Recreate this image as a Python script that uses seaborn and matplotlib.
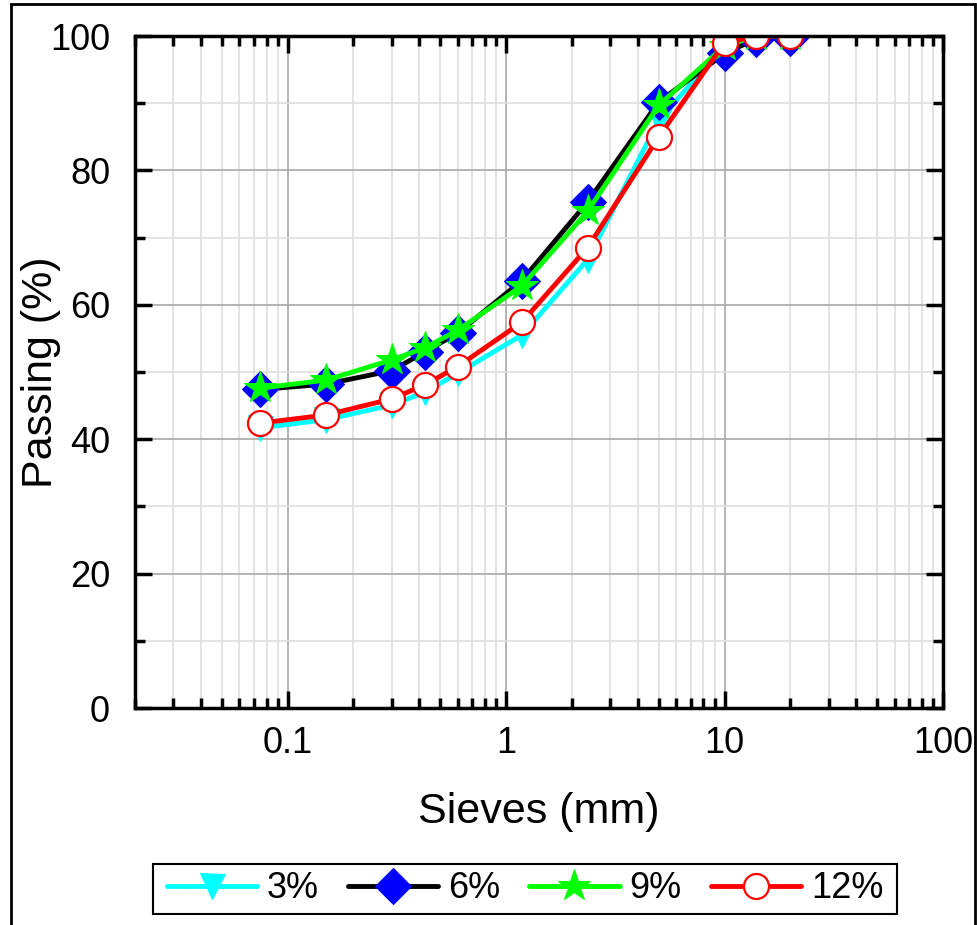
import numpy as np
import pandas as pd
import matplotlib
matplotlib.use("Agg")
import matplotlib.pyplot as plt
import seaborn as sns
from matplotlib.ticker import FixedLocator, FuncFormatter, MultipleLocator
from matplotlib.patches import Rectangle

sieves = [0.075, 0.15, 0.3, 0.425, 0.6, 1.18, 2.36, 5, 10, 14, 20]
p3 = [41.7, 42.9, 45.1, 47.0, 49.8, 55.5, 66.7, 87.5, 98.5, 99.8, 99.8]
p6 = [47.4, 48.2, 50.2, 53.0, 55.8, 63.6, 75.3, 90.2, 97.4, 99.6, 99.7]
p9 = [47.6, 48.8, 51.8, 53.6, 56.2, 62.8, 73.9, 89.7, 98.5, 100.0, 100.0]
p12 = [42.4, 43.6, 46.0, 48.1, 50.8, 57.4, 68.5, 85.0, 99.0, 100.0, 100.0]
labels = ["3%", "6%", "9%", "12%"]

sns.set_style("ticks")
plt.rcParams["font.family"] = ["Liberation Sans", "DejaVu Sans"]
for k in ["text.color", "axes.labelcolor", "xtick.color", "ytick.color", "axes.edgecolor"]:
    plt.rcParams[k] = "black"

W, H = 977, 925
fig = plt.figure(figsize=(W/100, H/100), dpi=100)
ax = fig.add_axes([135/W, 1-708/H, (943-135)/W, (708-36)/H])

styles = [
    dict(color="#00FFFF", marker="v", markersize=18, markerfacecolor="#00FFFF", markeredgecolor="#00FFFF"),
    dict(color="black", marker="D", markersize=18, markerfacecolor="#0000FF", markeredgecolor="#0000FF"),
    dict(color="#00FF00", marker="*", markersize=24, markerfacecolor="#00FF00", markeredgecolor="#00FF00"),
    dict(color="#FF0000", marker="o", markersize=18, markerfacecolor="white", markeredgecolor="#FF0000", markeredgewidth=1.6),
]
for vals, lab, st in zip([p3, p6, p9, p12], labels, styles):
    df = pd.DataFrame({"x": sieves, "y": vals})
    sns.lineplot(data=df, x="x", y="y", ax=ax, lw=3.5, label=lab, legend=False, **st)

ax.set_xscale("log")
ax.set_xlim(0.02, 100)
ax.set_ylim(0, 100)

ax.xaxis.set_major_locator(FixedLocator([0.1, 1, 10, 100]))
ax.xaxis.set_major_formatter(FuncFormatter(lambda v, p: f"{v:g}"))
minors = [m * 10.0**e for e in range(-2, 2) for m in range(2, 10)]
ax.xaxis.set_minor_locator(FixedLocator(minors))
ax.xaxis.set_minor_formatter(FuncFormatter(lambda v, p: ""))
ax.yaxis.set_major_locator(MultipleLocator(20))
ax.yaxis.set_minor_locator(MultipleLocator(10))

ax.grid(which="major", color="#a8a8a8", lw=1.2)
ax.grid(which="minor", color="#dedede", lw=1.2)
ax.set_axisbelow(True)

ax.tick_params(which="both", direction="in", top=True, right=True, width=2.5)
ax.tick_params(which="major", length=12, labelsize=26)
ax.tick_params(axis="x", which="major", pad=13)
ax.tick_params(axis="y", which="major", pad=18)
ax.tick_params(which="minor", length=7)
for s in ax.spines.values():
    s.set_linewidth(2.5)

ax.set_xlabel("Sieves (mm)", fontsize=31)
ax.set_ylabel("Passing (%)", fontsize=31)
ax.xaxis.set_label_coords(0.5, (708-812)/672)
ax.xaxis.label.set_va("center")
ax.yaxis.set_label_coords((41-135)/808, 0.5)
ax.yaxis.label.set_va("center")

handles, labs = ax.get_legend_handles_labels()
leg = fig.legend(handles, labs, loc="center", bbox_to_anchor=(525/W, 1-889/H),
                 ncol=4, fontsize=26, frameon=False,
                 handlelength=2.5, handletextpad=0.28, columnspacing=0.8)

fig.patches.append(Rectangle((153/W, 1-914/H), (897-153)/W, 50/H, transform=fig.transFigure,
                             fill=False, edgecolor="black", lw=1.5))
fig.patches.append(Rectangle((11/W, -0.01), (975-11)/W, 1.01-4/H, transform=fig.transFigure,
                             fill=False, edgecolor="black", lw=2))

fig.savefig("out.png", dpi=100)
